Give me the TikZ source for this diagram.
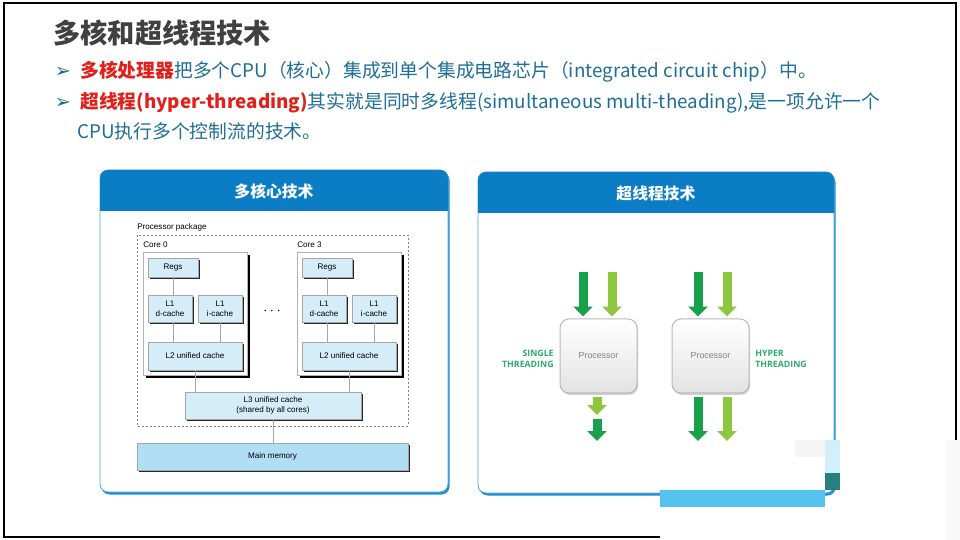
\documentclass[tikz,border=0pt]{standalone}
\usepackage{fontspec}
\setmainfont{Noto Sans CJK SC}
\newfontfamily\arialfont{Liberation Sans}
\newfontfamily\dingfont{DejaVu Sans}
\newfontfamily\greenfont{Open Sans}
\usepackage{xcolor}
\usepackage{tikz}
\usetikzlibrary{arrows.meta,positioning,shadows}

\definecolor{hdrblue}{HTML}{0A7DC5}
\definecolor{rimblue}{HTML}{1E8FD2}
\definecolor{titlegray}{HTML}{404040}
\definecolor{keyred}{HTML}{E0201B}
\definecolor{bodyteal}{HTML}{1F6E96}
\definecolor{cachefill}{HTML}{D4EDF9}
\definecolor{memfill}{HTML}{B0DEF4}
\definecolor{darkgreen}{HTML}{18A04A}
\definecolor{lightgreen}{HTML}{8DC63F}
\definecolor{labelgreen}{HTML}{2DAA6B}
\definecolor{skybar}{HTML}{55C3EE}

\newlength\pxl
\setlength\pxl{0.02cm}

\begin{document}
\begin{tikzpicture}[x=0.02cm, y=-0.02cm,
		bullet/.style={anchor=west, inner sep=0pt, font=\fontsize{10.7}{12}\selectfont, text=bodyteal},
		bulletmark/.style={anchor=center, inner sep=0pt, text=bodyteal, font=\dingfont\fontsize{11}{12}\selectfont},
		hdrtext/.style={text=white, font=\fontsize{9}{10}\selectfont\bfseries},
		cachebox/.style={draw=gray!70, fill=cachefill, line width=0.6\pxl, inner sep=0pt,
				font=\arialfont\fontsize{4.6}{5.4}\selectfont, align=center,
				drop shadow={shadow xshift=1.8\pxl, shadow yshift=-1.8\pxl, fill=black!85, opacity=1}},
		corebox/.style={draw=gray!60, fill=white, line width=0.6\pxl, inner sep=0pt,
				drop shadow={shadow xshift=3\pxl, shadow yshift=-3\pxl, fill=black, opacity=1}},
		small/.style={font=\arialfont\fontsize{4.6}{5.4}\selectfont, inner sep=0pt, anchor=west},
		procbox/.style={draw=gray!55, line width=1\pxl, rounded corners=9\pxl, top color=white,
				bottom color=gray!22, minimum width=77\pxl, minimum height=74\pxl,
				font=\arialfont\fontsize{5}{6}\selectfont, text=gray,
				drop shadow={shadow xshift=1\pxl, shadow yshift=-2\pxl, fill=gray!60, opacity=0.6}},
		greenlbl/.style={font=\greenfont\fontsize{5}{6.6}\selectfont\bfseries, text=labelgreen, inner sep=0pt},
		wire/.style={draw=gray!70, line width=0.6\pxl},
		fatarrow/.style={line width=0.18cm, -{Triangle[length=0.2cm, width=0.38cm]}}]

	\useasboundingbox (0,0) rectangle (960,540);

	% ── frame ──
	\draw[black, line width=1.2\pxl] (660,537) -- (4,537) -- (4,3) -- (956,3) -- (956,440);

	% ── title and bullets ──
	\node[anchor=west, inner sep=0pt, text=titlegray, font=\fontsize{15.5}{18}\selectfont\bfseries] (title) at (53,33) {多核和超线程技术};

	\node[bulletmark] (mk1) at (63,72) {➢};
	\node[bullet] (b1) at (80,72) {\textcolor{keyred}{\bfseries 多核处理器}把多个CPU（核心）集成到单个集成电路芯片（integrated circuit chip）中。};
	\node[bulletmark] (mk2) at (63,103) {➢};
	\node[bullet] (b2) at (80,103) {\textcolor{keyred}{\bfseries 超线程(hyper-threading)}其实就是同时多线程(simultaneous multi-theading),是一项允许一个};
	\node[bullet] (b3) at (77,131) {CPU执行多个控制流的技术。};

	% ── left panel ──
	\fill[rimblue, rounded corners=8\pxl] (101.5,172) rectangle (449.5,494.5);
	\draw[rimblue!80, fill=white, line width=0.8\pxl, rounded corners=8\pxl] (100,170) rectangle (448,492);
	\fill[hdrblue] (100,211) [rounded corners=8\pxl] -- (100,170) -- (448,170) [sharp corners] -- (448,211) -- cycle;
	\node[hdrtext] (lhead) at (274,191) {多核心技术};

	\node[small] (pkglbl) at (137,227) {Processor package};
	\draw[gray, dash pattern=on 0.04cm off 0.04cm, line width=0.6\pxl] (137,235) rectangle (408,426);

	\node[small] (c0lbl) at (143,245) {Core 0};
	\node[small] (c3lbl) at (297,245) {Core 3};
	\node[corebox, minimum width=104\pxl, minimum height=123\pxl] (core0) at (195,313.5) {};
	\node[corebox, minimum width=104\pxl, minimum height=123\pxl] (core3) at (349,313.5) {};

	% core 0
	\node[cachebox, minimum width=50\pxl, minimum height=19\pxl] (regs0) at (173,267.5) {Regs};
	\node[cachebox, minimum width=44\pxl, minimum height=27\pxl] (l1d0) at (170,309) {L1\\d-cache};
	\node[cachebox, minimum width=44\pxl, minimum height=27\pxl] (l1i0) at (220,309) {L1\\i-cache};
	\node[cachebox, minimum width=94\pxl, minimum height=28\pxl] (l20) at (195,356) {L2 unified cache};

	% core 3
	\node[cachebox, minimum width=50\pxl, minimum height=19\pxl] (regs3) at (327,267.5) {Regs};
	\node[cachebox, minimum width=44\pxl, minimum height=27\pxl] (l1d3) at (324,309) {L1\\d-cache};
	\node[cachebox, minimum width=44\pxl, minimum height=27\pxl] (l1i3) at (374,309) {L1\\i-cache};
	\node[cachebox, minimum width=94\pxl, minimum height=28\pxl] (l23) at (349,356) {L2 unified cache};

	\node[font=\arialfont\fontsize{8}{9}\selectfont\bfseries, inner sep=0pt] (dots) at (272,311) {$\cdots$};

	\node[cachebox, minimum width=176\pxl, minimum height=27\pxl] (l3) at (273,405.5) {L3 unified cache\\(shared by all cores)};
	\node[cachebox, fill=memfill, minimum width=271\pxl, minimum height=27\pxl] (mem) at (272.5,456.5) {Main memory};

	% ── wires ──
	\draw[wire] (regs0.south) -- (regs0.south |- l1d0.north);
	\draw[wire] (regs0.south |- l1d0.south) -- (regs0.south |- l20.north);
	\draw[wire] (l1i0.south) -- (l1i0.south |- l20.north);
	\draw[wire] (regs3.south) -- (regs3.south |- l1d3.north);
	\draw[wire] (regs3.south |- l1d3.south) -- (regs3.south |- l23.north);
	\draw[wire] (l1i3.south) -- (l1i3.south |- l23.north);
	\draw[wire] (l20.south) -- (l20.south |- l3.north);
	\draw[wire] (l23.south) -- (l23.south |- l3.north);
	\draw[wire] (l3.south) -- (l3.south |- mem.north);

	% ── right panel ──
	\fill[rimblue, rounded corners=8\pxl] (479.5,174) rectangle (835.5,495.5);
	\draw[rimblue!80, fill=white, line width=0.8\pxl, rounded corners=8\pxl] (478,172) rectangle (834,493);
	\fill[hdrblue] (478,213) [rounded corners=8\pxl] -- (478,172) -- (834,172) [sharp corners] -- (834,213) -- cycle;
	\node[hdrtext] (rhead) at (656,193) {超线程技术};

	\node[procbox] (proc1) at (598.5,356) {Processor};
	\node[procbox] (proc2) at (710.5,356) {Processor};

	\node[greenlbl, anchor=east, align=right] (single) at (554,359) {SINGLE\\THREADING};
	\node[greenlbl, anchor=west, align=left] (hyper) at (755,359) {HYPER\\THREADING};

	% inputs
	\coordinate (in1a) at (583,272);
	\coordinate (in1b) at (612,272);
	\coordinate (in2a) at (698,272);
	\coordinate (in2b) at (727,272);
	\draw[fatarrow, darkgreen] (in1a) -- ([yshift=0.04cm]in1a |- proc1.north);
	\draw[fatarrow, lightgreen] (in1b) -- ([yshift=0.04cm]in1b |- proc1.north);
	\draw[fatarrow, darkgreen] (in2a) -- ([yshift=0.04cm]in2a |- proc2.north);
	\draw[fatarrow, lightgreen] (in2b) -- ([yshift=0.04cm]in2b |- proc2.north);

	% outputs
	\coordinate (out1a) at (597,415);
	\coordinate (out1b) at (597,419);
	\coordinate (out1c) at (597,441);
	\coordinate (out2a) at (698,441);
	\coordinate (out2b) at (727,441);
	\draw[fatarrow, lightgreen] ([yshift=-0.08cm]out1a |- proc1.south) -- (out1a);
	\draw[fatarrow, darkgreen] (out1b) -- (out1c);
	\draw[fatarrow, darkgreen] ([yshift=-0.08cm]out2a |- proc2.south) -- (out2a);
	\draw[fatarrow, lightgreen] ([yshift=-0.08cm]out2b |- proc2.south) -- (out2b);

	% ── patches at lower right ──
	\fill[gray!8] (795,440) rectangle (825,457);
	\fill[cyan!18] (825,440) rectangle (840,473);
	\fill[teal!70!gray] (825,473) rectangle (840,490);
	\fill[skybar] (660,490) rectangle (825,507);
	\fill[gray!5] (945,440) rectangle (960,540);

\end{tikzpicture}
\end{document}
